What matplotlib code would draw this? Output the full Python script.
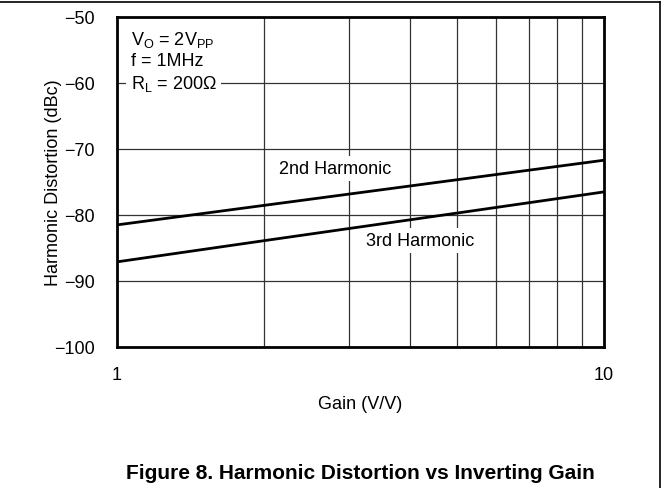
import numpy as np
import matplotlib
matplotlib.use("Agg")
import matplotlib.pyplot as plt
from matplotlib.lines import Line2D

plt.rcParams['font.family'] = ['Liberation Sans', 'DejaVu Sans']
plt.rcParams['mathtext.default'] = 'regular'

# ------------- Data -------------
gain = [1, 2, 5, 10]
hd2 = [-81.5, -78.55, -74.65, -71.7]
hd3 = [-87.1, -83.9, -79.7, -76.5]
y_ticks = [-100, -90, -80, -70, -60, -50]
x_ticks = [1, 10]
grid_x = [2, 3, 4, 5, 6, 7, 8, 9]
grid_y = [-90, -80, -70, -60]

FS = 13

fig = plt.figure(figsize=(6.69, 4.89), dpi=100)
ax = fig.add_axes([117/669, 1 - 348/489, 487/669, 330/489])
ax.set_xscale('log')
ax.set_xlim(1, 10)
ax.set_ylim(-100, -50)

for gx in grid_x:
    ax.axvline(gx, color='#333333', lw=0.9, zorder=1)
for gy in grid_y:
    ax.axhline(gy, color='#333333', lw=0.9, zorder=1)

ax.plot(gain, hd2, color='black', lw=2.0, zorder=3)
ax.plot(gain, hd3, color='black', lw=2.0, zorder=3)

ax.set_xticks(x_ticks)
ax.set_xticklabels(['1', '10'])
ax.xaxis.set_minor_locator(matplotlib.ticker.NullLocator())
ax.set_yticks(y_ticks)
ax.tick_params(axis='both', length=0, labelsize=FS)
ax.tick_params(axis='x', pad=14)
ax.tick_params(axis='y', pad=16)
for s in ax.spines.values():
    s.set_linewidth(2.0)

ax.set_xlabel('Gain (V/V)', fontsize=FS, labelpad=8)
ax.set_ylabel('Harmonic Distortion (dBc)', fontsize=FS, labelpad=-6)

box = dict(facecolor='white', edgecolor='none', pad=3)
ax.text(2.80, -73.0, '2nd Harmonic', fontsize=FS, ha='center', va='center', bbox=box, zorder=2)
ax.text(4.19, -83.9, '3rd Harmonic', fontsize=FS, ha='center', va='center', bbox=box, zorder=2)
ax.text(0.028, 0.965,
        'V$_{O}$ = 2V$_{PP}$\nf = 1MHz\nR$_{L}$ = 200\u03a9',
        transform=ax.transAxes, fontsize=FS, ha='left', va='top',
        linespacing=1.25, bbox=box, zorder=2)

fig.text(360/669, 1 - 474/489, 'Figure 8. Harmonic Distortion vs Inverting Gain',
         fontsize=15, fontweight='bold', ha='center', va='center')

# page frame: top and right rules
fig.add_artist(Line2D([0, 660/669], [1 - 3/489, 1 - 3/489], color='black', lw=1.2, transform=fig.transFigure))
fig.add_artist(Line2D([660/669, 660/669], [0, 1 - 3/489], color='black', lw=1.2, transform=fig.transFigure))

fig.savefig('out.png', dpi=100)
